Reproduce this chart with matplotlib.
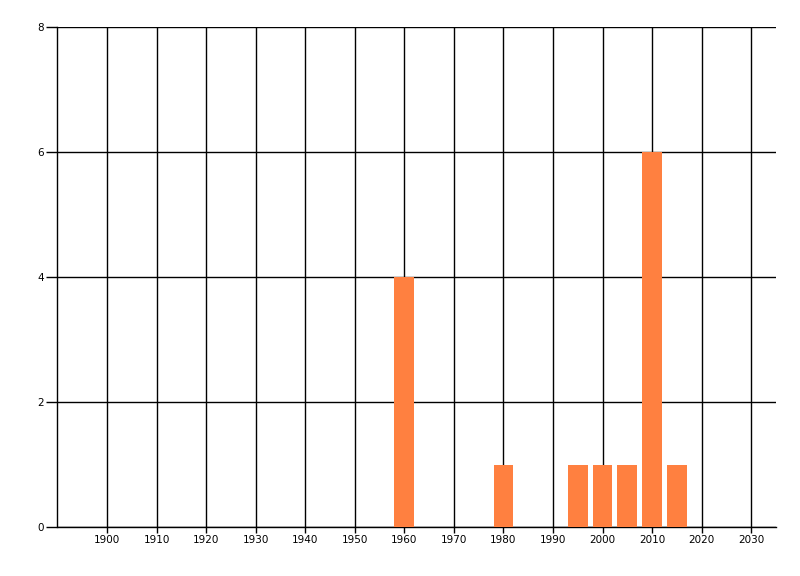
import matplotlib
matplotlib.use("Agg")
import matplotlib.pyplot as plt

years = [1960, 1980, 1995, 2000, 2005, 2010, 2015]
counts = [4, 1, 1, 1, 1, 6, 1]
xticks = list(range(1900, 2031, 10))
yticks = [0, 2, 4, 6, 8]

fig = plt.figure(figsize=(8, 5.76), dpi=100)
ax = fig.add_axes([57.5 / 800, 49 / 576, (776 - 57.5) / 800, 500 / 576])

ax.bar(years, counts, width=4, color='#ff8040', zorder=3)

ax.set_xlim(1890, 2035)
ax.set_ylim(0, 8)
ax.set_xticks(xticks)
ax.set_yticks(yticks)
ax.grid(True, color='black', linewidth=1, zorder=1)
ax.set_axisbelow(True)

for side in ['top', 'right']:
    ax.spines[side].set_visible(False)
ax.spines['left'].set_linewidth(1)
ax.spines['bottom'].set_linewidth(1)

ax.tick_params(axis='x', length=4, width=1, labelsize=7.5, pad=2)
ax.tick_params(axis='y', length=8, width=1, labelsize=7.5, pad=2)

fig.savefig('out.png', dpi=100)
